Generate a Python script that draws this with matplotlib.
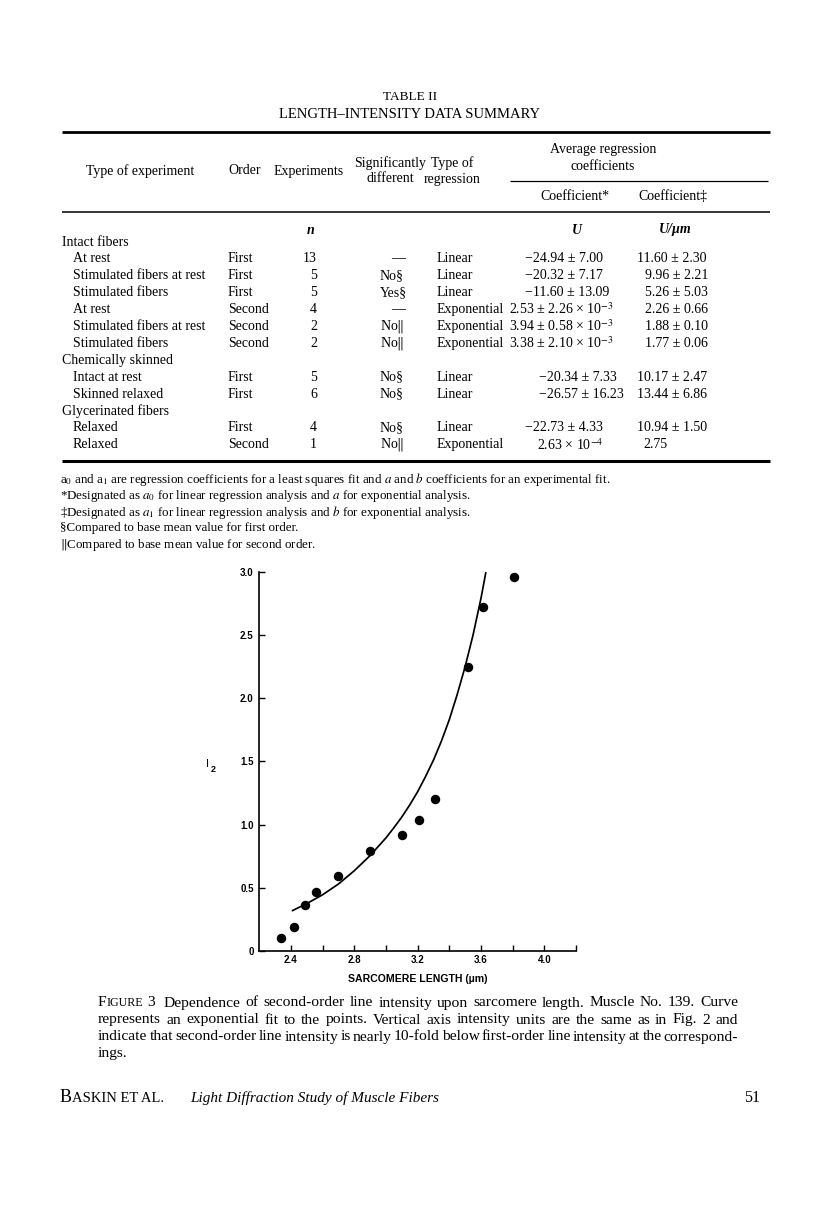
import matplotlib
matplotlib.use("Agg")
import matplotlib.pyplot as plt
from matplotlib.lines import Line2D

plt.rcParams["mathtext.fontset"] = "stix"

# ---------------- data ----------------
table_number = "TABLE II"
table_title = "LENGTH\u2013INTENSITY DATA SUMMARY"
groups = ["Intact fibers", "Chemically skinned", "Glycerinated fibers"]
row_group = [0, 0, 0, 0, 0, 0, 1, 1, 2, 2]
experiment_types = ["At rest", "Stimulated fibers at rest", "Stimulated fibers",
                    "At rest", "Stimulated fibers at rest", "Stimulated fibers",
                    "Intact at rest", "Skinned relaxed", "Relaxed", "Relaxed"]
orders = ["First", "First", "First", "Second", "Second", "Second",
          "First", "First", "First", "Second"]
n_experiments = [13, 5, 5, 4, 2, 2, 5, 6, 4, 1]
significance = ["\u2014", "No\u00a7", "Yes\u00a7", "\u2014", "No$\\|$", "No$\\|$",
                "No\u00a7", "No\u00a7", "No\u00a7", "No$\\|$"]
regression_types = ["Linear", "Linear", "Linear", "Exponential", "Exponential",
                     "Exponential", "Linear", "Linear", "Linear", "Exponential"]
coef_a = ["\u221224.94 \u00b1 7.00", "\u221220.32 \u00b1 7.17", "\u221211.60 \u00b1 13.09",
          "2.53 \u00b1 2.26 \u00d7 10$^{-3}$", "3.94 \u00b1 0.58 \u00d7 10$^{-3}$",
          "3.38 \u00b1 2.10 \u00d7 10$^{-3}$", "\u221220.34 \u00b1 7.33",
          "\u221226.57 \u00b1 16.23", "\u221222.73 \u00b1 4.33", "2.63 \u00d7 10$^{-4}$"]
coef_b = ["11.60 \u00b1 2.30", "9.96 \u00b1 2.21", "5.26 \u00b1 5.03", "2.26 \u00b1 0.66",
          "1.88 \u00b1 0.10", "1.77 \u00b1 0.06", "10.17 \u00b1 2.47", "13.44 \u00b1 6.86",
          "10.94 \u00b1 1.50", "2.75"]
footnotes = [
    "a$_0$ and a$_1$ are regression coefficients for a least squares fit and $a$ and $b$ coefficients for an experimental fit.",
    "*Designated as $a_0$ for linear regression analysis and $a$ for exponential analysis.",
    "\u2021Designated as $a_1$ for linear regression analysis and $b$ for exponential analysis.",
    "\u00a7Compared to base mean value for first order.",
    "$\\|$Compared to base mean value for second order.",
]

# figure 3 data
sarcomere_length = [2.34, 2.42, 2.49, 2.56, 2.70, 2.90, 3.10, 3.21, 3.31, 3.52, 3.61, 3.81]
intensity = [0.10, 0.19, 0.36, 0.47, 0.59, 0.79, 0.92, 1.04, 1.20, 2.25, 2.72, 2.96]
fit_length = [2.41, 2.50, 2.60, 2.70, 2.80, 2.90, 3.00, 3.05, 3.10, 3.15, 3.20, 3.25,
              3.30, 3.35, 3.40, 3.45, 3.50, 3.55, 3.60, 3.63]
fit_intensity = [0.32, 0.375, 0.445, 0.53, 0.635, 0.755, 0.895, 0.975, 1.06, 1.155,
                 1.26, 1.38, 1.51, 1.66, 1.83, 2.03, 2.25, 2.50, 2.79, 2.99]
x_major = [2.4, 2.8, 3.2, 3.6, 4.0]
x_major_labels = ["2.4", "2.8", "3.2", "3.6", "4.0"]
x_minor = [2.6, 3.0, 3.4, 3.8, 4.2]
y_ticks = [0, 0.5, 1.0, 1.5, 2.0, 2.5, 3.0]
y_tick_labels = ["0", "0.5", "1.0", "1.5", "2.0", "2.5", "3.0"]
x_label = "SARCOMERE LENGTH (\u00b5m)"

caption_lines = [
    "Dependence of second-order line intensity upon sarcomere length. Muscle No. 139. Curve",
    "represents an exponential fit to the points. Vertical axis intensity units are the same as in Fig. 2 and",
    "indicate that second-order line intensity is nearly 10-fold below first-order line intensity at the correspond-",
    "ings.",
]
footer_title = "Light Diffraction Study of Muscle Fibers"
page_number = "51"

# ---------------- page ----------------
W, H = 816, 1222
fig = plt.figure(figsize=(W / 100, H / 100), dpi=100)
fig.patch.set_facecolor("white")
renderer = fig.canvas.get_renderer()

SERIF = ["Liberation Serif", "DejaVu Serif"]
SANS = ["Liberation Sans", "DejaVu Sans"]


def T(x, y, s, size=10, ha="left", va="center", family=None, **kw):
    return fig.text(x / W, 1 - y / H, s, fontsize=size, ha=ha, va=va,
                    family=family or SERIF, **kw)


def width(s, size, **kw):
    t = T(0, 0, s, size, **kw)
    w = t.get_window_extent(renderer).width
    t.remove()
    return w


def hline(x0, x1, y, lw):
    fig.add_artist(Line2D([x0 / W, x1 / W], [1 - y / H, 1 - y / H],
                          transform=fig.transFigure, color="black", lw=lw,
                          solid_capstyle="butt"))


def justify(words, x0, x1, y, size, **kw):
    ws = [width(w, size, **kw) for w in words]
    gap = (x1 - x0 - sum(ws)) / (len(words) - 1)
    x = x0
    for w, wd in zip(words, ws):
        T(x, y, w, size, **kw)
        x += wd + gap


FS = 10
# title
T(410, 97, table_number, 9.5, ha="center")
T(410, 114, table_title, 10.5, ha="center")
hline(62, 770, 132, 2.0)

# header
T(140, 171, "Type of experiment", FS, ha="center")
T(245, 171, "Order", FS, ha="center")
T(309, 171, "Experiments", FS, ha="center")
T(390, 163, "Significantly", FS, ha="center")
T(390, 179, "different", FS, ha="center")
T(452, 163, "Type of", FS, ha="center")
T(452, 180, "regression", FS, ha="center")
T(603, 150, "Average regression", FS, ha="center")
T(603, 167, "coefficients", FS, ha="center")
hline(510, 768, 181, 0.9)
T(575, 197, "Coefficient*", FS, ha="center")
T(673, 197, "Coefficient\u2021", FS, ha="center")
hline(62, 770, 212, 1.1)
T(311, 230, "n", FS, ha="center", style="italic", weight="bold")
T(577, 230, "U", FS, ha="center", style="italic", weight="bold")
T(675, 230, "U/\u00b5m", FS, ha="center", style="italic", weight="bold")

# body
coef_a_x = [525, 525, 525, 509, 509, 509, 539, 539, 525, 537]
coef_b_x = [637, 645, 645, 645, 645, 645, 637, 637, 637, 643]
y = 242
step = 16.9
prev_group = None
for i in range(len(experiment_types)):
    g = row_group[i]
    if g != prev_group:
        T(62, y, groups[g], FS)
        y += step
        prev_group = g
    T(73, y, experiment_types[i], FS)
    T(228, y, orders[i], FS)
    T(317, y, str(n_experiments[i]), FS, ha="right")
    if significance[i] == "\u2014":
        T(398, y, significance[i], FS, ha="center")
    else:
        T(380, y, significance[i], FS)
    T(437, y, regression_types[i], FS)
    T(coef_a_x[i], y, coef_a[i], FS)
    T(coef_b_x[i], y, coef_b[i], FS)
    y += step
hline(62, 770, 461, 2.2)

# footnotes
for k, line in enumerate(footnotes):
    T(60, 479 + 16.5 * k, line, 9.4)

# ---------------- chart ----------------
l, r, b, t = 259.3, 576.0, 951.0, 571.7
ax = fig.add_axes([l / W, 1 - b / H, (r - l) / W, (b - t) / H])
ax.plot(fit_length, fit_intensity, color="black", lw=1.25, clip_on=False,
        solid_joinstyle="round")
ax.plot(sarcomere_length, intensity, "o", color="black", ms=5.8, clip_on=False)
ax.set_xlim(2.2, 4.2)
ax.set_ylim(0, 3.0)
for s in ["top", "right"]:
    ax.spines[s].set_visible(False)
for s in ["left", "bottom"]:
    ax.spines[s].set_linewidth(1.2)
ax.set_xticks(x_major)
ax.set_xticklabels(x_major_labels)
ax.set_xticks(x_minor, minor=True)
ax.set_yticks(y_ticks)
ax.set_yticklabels(y_tick_labels)
ax.tick_params(which="both", direction="in", length=4, width=1.0)
ax.tick_params(axis="x", pad=3)
ax.tick_params(axis="y", pad=4)
for lab in ax.get_xticklabels() + ax.get_yticklabels():
    lab.set_fontfamily(SANS)
    lab.set_fontweight("bold")
    lab.set_fontsize(7)
ax.set_xlabel(x_label, fontsize=7.6, fontweight="bold", family=SANS, labelpad=6)
ax.patch.set_alpha(0)

# y label I2
T(206, 764, "I", 8, family=SANS)
T(210.5, 769, "2", 6.5, family=SANS, weight="bold")

# ---------------- caption ----------------
cap_x0, cap_x1 = 98, 738
words3 = caption_lines[2].split()
w3 = sum(width(w, 10.0) for w in words3)
cap_fs = 10.0 * (cap_x1 - cap_x0 - 2.5 * (len(words3) - 1)) / w3
cap_y = [1003, 1020, 1037, 1053]
T(cap_x0, cap_y[0], "F", cap_fs)
xw = cap_x0 + width("F", cap_fs)
T(xw, cap_y[0], "IGURE", cap_fs * 0.78)
xw += width("IGURE", cap_fs * 0.78) + width(" ", cap_fs)
T(xw, cap_y[0], "3", cap_fs)
xw += width("3", cap_fs) + 9
justify(caption_lines[0].split(), xw, cap_x1, cap_y[0], cap_fs)
justify(caption_lines[1].split(), cap_x0, cap_x1, cap_y[1], cap_fs)
justify(words3, cap_x0, cap_x1, cap_y[2], cap_fs)
T(cap_x0, cap_y[3], caption_lines[3], cap_fs)

# footer
fy = 1098
T(60, fy, "B", 13)
xf = 60 + width("B", 13)
T(xf, fy, "ASKIN ET AL.", 10.5)
T(190, fy, footer_title, 11, style="italic")
T(760, fy, page_number, 11.5, ha="right")

fig.savefig("out.png", dpi=100, facecolor="white")
